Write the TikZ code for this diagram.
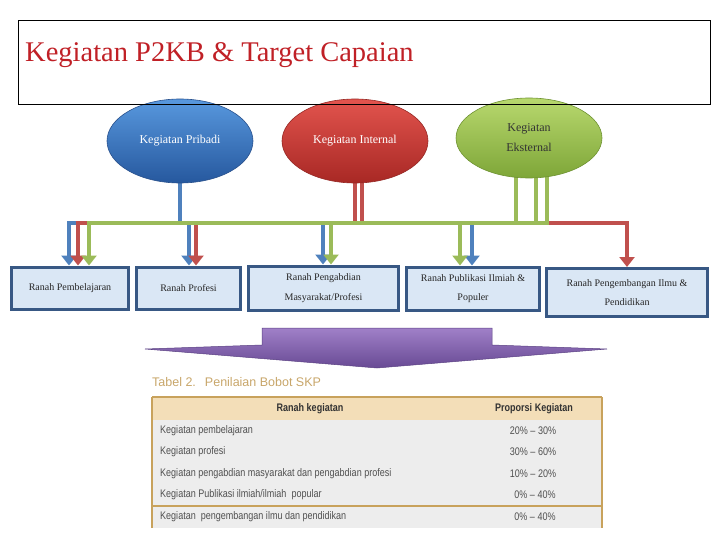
\documentclass[tikz,border=0pt]{standalone}
\usepackage{fontspec}
\setmainfont{Liberation Serif}
\newfontfamily\condfont[FakeStretch=0.82]{Liberation Sans}
\newfontfamily\capfont{Liberation Sans}
\usetikzlibrary{shapes.geometric,arrows.meta,backgrounds}
\definecolor{titlered}{RGB}{192,32,38}
\definecolor{blueL}{RGB}{88,152,222}
\definecolor{blueD}{RGB}{38,88,158}
\definecolor{blueE}{RGB}{40,80,140}
\definecolor{redL}{RGB}{226,84,78}
\definecolor{redD}{RGB}{168,40,36}
\definecolor{redE}{RGB}{150,40,36}
\definecolor{greenL}{RGB}{184,216,110}
\definecolor{greenD}{RGB}{126,166,56}
\definecolor{greenE}{RGB}{110,146,50}
\definecolor{cblue}{RGB}{79,129,189}
\definecolor{cred}{RGB}{192,80,77}
\definecolor{cgreen}{RGB}{155,187,89}
\definecolor{boxE}{RGB}{56,88,132}
\definecolor{boxF}{RGB}{218,231,245}
\definecolor{purpL}{RGB}{160,128,200}
\definecolor{purpD}{RGB}{104,74,148}
\definecolor{purpE}{RGB}{90,64,130}
\definecolor{tancap}{RGB}{200,166,106}
\definecolor{tanfill}{RGB}{243,222,184}
\definecolor{tanline}{RGB}{200,162,92}
\definecolor{grayfill}{RGB}{237,237,237}
\definecolor{rowtext}{RGB}{80,80,80}
\tikzset{
  oval/.style={ellipse, minimum width=146pt, minimum height=84pt, inner sep=0pt,
    line width=0.6pt, align=center, font=\fontsize{12}{20}\selectfont},
  ranah/.style={draw=boxE, fill=boxF, line width=3pt, inner sep=0pt, align=center,
    font=\fontsize{10}{19.5}\selectfont, text=black!85},
  conn/.style={line width=3.2pt, line join=miter, -{Triangle[width=15pt,length=10pt]}},
  rowtxt/.style={anchor=west, inner sep=0pt, text=rowtext, font=\condfont\fontsize{11}{13}\selectfont},
  pcttxt/.style={inner sep=0pt, text=rowtext, font=\condfont\fontsize{11}{13}\selectfont},
  headtxt/.style={inner sep=0pt, text=black!80, font=\condfont\bfseries\fontsize{11}{13}\selectfont}
}
\begin{document}
\begin{tikzpicture}[x=1pt,y=-1pt]
\useasboundingbox (0,0) rectangle (720,540);

% ellipses
\node[oval, top color=blueL, bottom color=blueD, draw=blueE, text=white] (pribadi) at (180,141) {\raisebox{4pt}{Kegiatan Pribadi}};
\node[oval, top color=redL, bottom color=redD, draw=redE, text=white] (internal) at (355,141) {\raisebox{4pt}{Kegiatan Internal}};
\node[oval, top color=greenL, bottom color=greenD, draw=greenE, text=black!80, minimum height=80pt] (eksternal) at (529,138) {Kegiatan\\Eksternal};

% target boxes
\node[ranah, minimum width=117pt, minimum height=42pt] (b1) at (70,288) {Ranah Pembelajaran};
\node[ranah, minimum width=104pt, minimum height=42pt] (b2) at (188.5,288) {Ranah Profesi};
\node[ranah, minimum width=150pt, minimum height=44pt] (b3) at (323.5,288) {Ranah Pengabdian\\Masyarakat/Profesi};
\node[ranah, minimum width=133pt, minimum height=43pt] (b4) at (473,288.5) {Ranah Publikasi Ilmiah \&\\Populer};
\node[ranah, minimum width=161pt, minimum height=48pt] (b5) at (627,292.5) {Ranah Pengembangan Ilmu \&\\Pendidikan};

% junction coordinates on the bar
\coordinate (jb1) at (69,223);
\coordinate (jb2) at (189,223);
\coordinate (jb3) at (323,223);
\coordinate (jb4) at (472,223);
\coordinate (jr1) at (78,223);
\coordinate (jr2) at (196,223);
\coordinate (jr5) at (627,223);
\coordinate (jg1) at (89,223);
\coordinate (jg3) at (331,223);
\coordinate (jg4) at (460,223);

\begin{scope}[on background layer]
  % blue
  \draw[conn, cblue] (pribadi.center) |- (jb1) -- (jb1 |- b1.north);
  \draw[conn, cblue] (pribadi.center) |- (jb2) -- (jb2 |- b2.north);
  \draw[conn, cblue] (pribadi.center) |- (jb3) -- (jb3 |- b3.north);
  \draw[conn, cblue] (pribadi.center) |- (jb4) -- (jb4 |- b4.north);
  % red
  \draw[conn, cred] (internal.center) |- (jr1) -- (jr1 |- b1.north);
  \draw[conn, cred] (internal.center) |- (jr2) -- (jr2 |- b2.north);
  \draw[conn, cred] ([xshift=7pt]internal.center) |- (jr5) -- (jr5 |- b5.north);
  % green
  \draw[conn, cgreen] ([xshift=-13pt]eksternal.center) |- (jg1) -- (jg1 |- b1.north);
  \draw[conn, cgreen] ([xshift=7pt]eksternal.center) |- (jg3) -- (jg3 |- b3.north);
  \draw[conn, cgreen] ([xshift=18pt]eksternal.center) |- (jg4) -- (jg4 |- b4.north);
\end{scope}

% title box
\node[draw=black, line width=0.9pt, minimum width=692pt, minimum height=84pt, inner sep=0pt, anchor=north west] (titlebox) at (18,20) {};
\node[anchor=base west, inner sep=0pt, text=titlered, font=\fontsize{28.5}{32}\selectfont] (title) at (25,62) {Kegiatan P2KB \& Target Capaian};

% purple arrow
\path[top color=purpL, bottom color=purpD, draw=purpE, line width=0.5pt]
  (262,328) -- (492,328) -- (492,345) -- (607,349) -- (377,368) -- (145,349) -- (262,345) -- cycle;

% table
\node[anchor=west, inner sep=0pt, text=tancap, font=\capfont\fontsize{12.5}{14}\selectfont] (caption) at (152,382) {Tabel 2.\hspace{9pt}Penilaian Bobot SKP};
\fill[tanfill] (152,397) rectangle (602,420);
\fill[grayfill] (152,420) rectangle (602,528);
\draw[tanline, line width=1.2pt] (152,397) -- (602,397);
\draw[tanline, line width=1.2pt] (152,397) -- (152,528);
\draw[tanline, line width=1.2pt] (602,397) -- (602,528);
\draw[tanline, line width=1.2pt] (152,506) -- (602,506);

\node[headtxt] (h1) at (310,409) {Ranah kegiatan};
\node[headtxt] (h2) at (534,409) {Proporsi Kegiatan};

\node[rowtxt] (r1) at (160,431) {Kegiatan pembelajaran};
\node[rowtxt] (r2) at (160,452) {Kegiatan profesi};
\node[rowtxt] (r3) at (160,474) {Kegiatan pengabdian masyarakat dan pengabdian profesi};
\node[rowtxt] (r4) at (160,495) {Kegiatan Publikasi ilmiah/ilmiah\ \ popular};
\node[rowtxt] (r5) at (160,517) {Kegiatan\ \ pengembangan ilmu dan pendidikan};

\node[pcttxt] (p1) at (533,431) {20\% – 30\%};
\node[pcttxt] (p2) at (533,452) {30\% – 60\%};
\node[pcttxt] (p3) at (533,474) {10\% – 20\%};
\node[pcttxt] (p4) at (535,495) {0\% – 40\%};
\node[pcttxt] (p5) at (535,517) {0\% – 40\%};
\end{tikzpicture}
\end{document}
